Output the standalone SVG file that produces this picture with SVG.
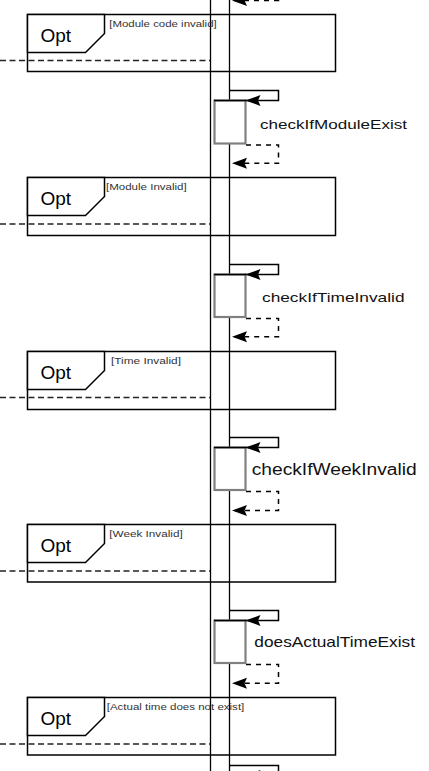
<svg xmlns="http://www.w3.org/2000/svg" width="429" height="771" viewBox="0 0 429 771">
<style>
.ll{stroke:#000;stroke-width:1.3;fill:none}
.frame{fill:none;stroke:#000;stroke-width:1.5}
.tab{fill:#fff;stroke:#000;stroke-width:1.5}
.guard{stroke:#222;stroke-width:1.3;stroke-dasharray:6 3.5;fill:none}
.opt{font-family:"Liberation Sans",Arial,sans-serif;font-size:19px;fill:#000}
.cond{font-family:"Liberation Sans",Arial,sans-serif;font-size:9.5px;fill:#333}
.msg{font-family:"Liberation Sans",Arial,sans-serif;fill:#111}
.act{fill:#fff;stroke:#808080;stroke-width:2.2}
.acttop{stroke:#000;stroke-width:1.5;fill:none}
.call{stroke:#000;stroke-width:1.5;fill:none;marker-end:url(#arr)}
.ret{stroke:#000;stroke-width:1.5;fill:none;stroke-dasharray:5 5;marker-end:url(#arr)}
</style>
<defs>
<marker id="arr" markerUnits="userSpaceOnUse" viewBox="0 0 15 12" refX="15" refY="6" markerWidth="15" markerHeight="12" orient="auto">
<path d="M0,0.5 L15,6 L0,11.5 L2.5,6 Z" fill="#000"/>
</marker>
</defs>
<rect x="0" y="0" width="429" height="771" fill="#fff"/>
<g id="lifeline">
<line class="ll" x1="210.5" y1="0" x2="210.5" y2="771"/>
<line class="ll" x1="229.5" y1="0" x2="229.5" y2="771"/>
</g>
<g id="opt1">
<rect class="frame" x="27.5" y="14.5" width="308" height="57"/>
<path class="tab" d="M27.5,14.5 H104.5 V33.5 L85.5,52.5 H27.5 Z"/>
<text class="opt" x="40.5" y="42">Opt</text>
<text class="cond" x="109.3" y="26.8" textLength="107.4" lengthAdjust="spacingAndGlyphs">[Module code invalid]</text>
</g>
<g id="opt2">
<rect class="frame" x="27.5" y="177.5" width="308" height="58"/>
<path class="tab" d="M27.5,177.5 H104.5 V196.5 L85.5,215.5 H27.5 Z"/>
<text class="opt" x="40.5" y="205">Opt</text>
<text class="cond" x="106" y="189.8" textLength="80.7" lengthAdjust="spacingAndGlyphs">[Module Invalid]</text>
</g>
<g id="opt3">
<rect class="frame" x="27.5" y="351.5" width="308" height="58"/>
<path class="tab" d="M27.5,351.5 H104.5 V370.5 L85.5,389.5 H27.5 Z"/>
<text class="opt" x="40.5" y="379">Opt</text>
<text class="cond" x="111" y="363.8" textLength="70" lengthAdjust="spacingAndGlyphs">[Time Invalid]</text>
</g>
<g id="opt4">
<rect class="frame" x="27.5" y="524.5" width="308" height="57.5"/>
<path class="tab" d="M27.5,524.5 H104.5 V543.5 L85.5,562.5 H27.5 Z"/>
<text class="opt" x="40.5" y="552">Opt</text>
<text class="cond" x="109.3" y="536.8" textLength="73.4" lengthAdjust="spacingAndGlyphs">[Week Invalid]</text>
</g>
<g id="opt5">
<rect class="frame" x="27.5" y="697.5" width="308" height="57.5"/>
<path class="tab" d="M27.5,697.5 H104.5 V716.5 L85.5,735.5 H27.5 Z"/>
<text class="opt" x="40.5" y="725">Opt</text>
<text class="cond" x="106.7" y="709.8" textLength="137.6" lengthAdjust="spacingAndGlyphs">[Actual time does not exist]</text>
</g>
<g id="act1">
<rect class="act" x="214.5" y="100.5" width="31" height="43"/>
<line class="acttop" x1="214" y1="100.5" x2="246" y2="100.5"/>
<text class="msg" x="260" y="128.5" font-size="13.5" textLength="147" lengthAdjust="spacingAndGlyphs">checkIfModuleExist</text>
</g>
<g id="act2">
<rect class="act" x="214.5" y="274.5" width="31" height="42.5"/>
<line class="acttop" x1="214" y1="274.5" x2="246" y2="274.5"/>
<text class="msg" x="262" y="301.7" font-size="13.5" textLength="142.5" lengthAdjust="spacingAndGlyphs">checkIfTimeInvalid</text>
</g>
<g id="act3">
<rect class="act" x="214.5" y="447.5" width="31" height="42.5"/>
<line class="acttop" x1="214" y1="447.5" x2="246" y2="447.5"/>
<text class="msg" x="251.7" y="475" font-size="16" textLength="165" lengthAdjust="spacingAndGlyphs">checkIfWeekInvalid</text>
</g>
<g id="act4">
<rect class="act" x="214.5" y="620.5" width="31" height="42.5"/>
<line class="acttop" x1="214" y1="620.5" x2="246" y2="620.5"/>
<text class="msg" x="254.3" y="647.3" font-size="15" textLength="160.7" lengthAdjust="spacingAndGlyphs">doesActualTimeExist</text>
</g>
<g id="act5">
<rect class="act" x="214.5" y="775.5" width="31" height="42.5"/>
</g>
<g id="connectors">
<line class="guard" x1="0" y1="60.5" x2="210" y2="60.5"/>
<line class="guard" x1="0" y1="224" x2="210" y2="224"/>
<line class="guard" x1="0" y1="397.5" x2="210" y2="397.5"/>
<line class="guard" x1="0" y1="571" x2="210" y2="571"/>
<line class="guard" x1="0" y1="744" x2="210" y2="744"/>
<path class="ret" d="M278.5,-20 V0.5 H232"/>
<path class="call" d="M229.5,90.5 H278.5 V100.5 H245.5"/>
<path class="ret" d="M246,145 H278.5 V163.3 H232"/>
<path class="call" d="M229.5,264.5 H278.5 V274.5 H245.5"/>
<path class="ret" d="M246,318.5 H278.5 V336.7 H232"/>
<path class="call" d="M229.5,437.5 H278.5 V447.5 H245.5"/>
<path class="ret" d="M246,491.5 H278.5 V510.5 H232"/>
<path class="call" d="M229.5,610.5 H278.5 V620.5 H245.5"/>
<path class="ret" d="M246,664.5 H278.5 V683.3 H232"/>
<path class="call" d="M229.5,765.5 H278.5 V775.5 H245.5"/>
</g>
</svg>
